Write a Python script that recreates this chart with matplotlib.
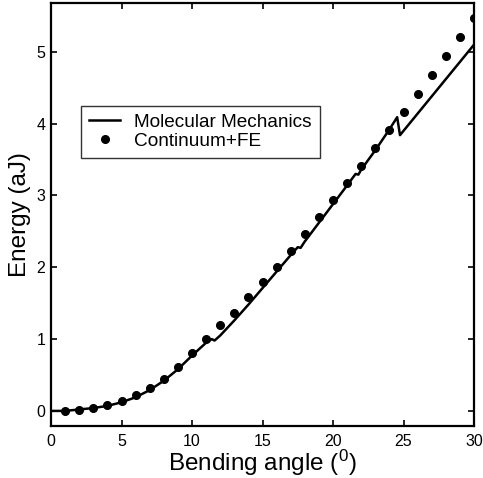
import matplotlib
matplotlib.use("Agg")
import matplotlib.pyplot as plt

plt.rcParams['font.family'] = ['Liberation Sans', 'DejaVu Sans']
plt.rcParams['mathtext.fontset'] = 'custom'
plt.rcParams['mathtext.rm'] = 'Liberation Sans'
plt.rcParams['mathtext.it'] = 'Liberation Sans'

# Continuum+FE points
fe_x = list(range(1, 31))
fe_y = [0.0, 0.01, 0.04, 0.08, 0.14, 0.22, 0.32, 0.45, 0.61, 0.80,
        1.00, 1.19, 1.37, 1.58, 1.79, 2.01, 2.23, 2.46, 2.70, 2.94,
        3.17, 3.41, 3.66, 3.91, 4.16, 4.41, 4.68, 4.94, 5.21, 5.47]

# Molecular mechanics curve
mm_x = [0, 1, 2, 3, 4, 5, 6, 7, 8, 9, 10, 11, 11.4, 11.6, 12, 13, 14, 15, 16, 17,
        17.5, 17.7, 18, 19, 20, 21, 21.6, 21.8, 22, 23, 24, 24.55, 24.75, 25,
        26, 27, 28, 29, 30]
mm_y = [0, 0.0, 0.02, 0.04, 0.07, 0.12, 0.19, 0.29, 0.42, 0.58, 0.77, 0.95, 1.0,
        0.98, 1.05, 1.26, 1.48, 1.71, 1.94, 2.17, 2.28, 2.27, 2.36, 2.62, 2.88,
        3.14, 3.30, 3.29, 3.36, 3.63, 3.92, 4.09, 3.84, 3.90, 4.14, 4.38, 4.62,
        4.86, 5.1]

xticks = [0, 5, 10, 15, 20, 25, 30]
yticks = [0, 1, 2, 3, 4, 5]

fig = plt.figure(figsize=(4.83, 4.78), dpi=100)
ax = fig.add_axes([0.1056, 0.1088, 0.8758, 0.8849])

ax.plot(mm_x, mm_y, color='black', lw=1.8, label='Molecular Mechanics')
ax.plot(fe_x, fe_y, 'o', color='black', ms=5.5, label='Continuum+FE')

ax.set_xlim(0, 30)
ax.set_ylim(-0.21, 5.68)
ax.set_xticks(xticks)
ax.set_yticks(yticks)
ax.tick_params(direction='in', top=True, right=True, length=4, width=1.2,
               labelsize=11.5)
ax.tick_params(axis='x', pad=6)
ax.tick_params(axis='y', pad=4)
for s in ax.spines.values():
    s.set_linewidth(1.6)

ax.set_xlabel('Bending angle ($^0$)', fontsize=17.5, labelpad=-1)
ax.set_ylabel('Energy (aJ)', fontsize=17.5, labelpad=4)

leg = ax.legend(loc='upper left', bbox_to_anchor=(0.0705, 0.757), fontsize=13.7,
                frameon=True, fancybox=False, edgecolor='black',
                handlelength=1.65, borderpad=0.42, labelspacing=0.08,
                handletextpad=0.75, borderaxespad=0)
leg.get_frame().set_linewidth(1.0)

fig.savefig('out.png', dpi=100)
